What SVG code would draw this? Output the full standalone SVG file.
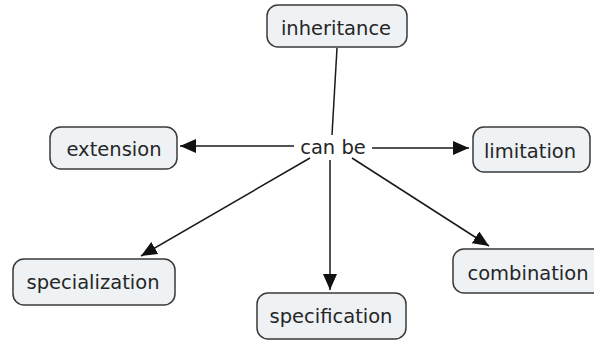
<svg xmlns="http://www.w3.org/2000/svg" width="594" height="343" viewBox="0 0 594 343">
  <style>
    .box { fill: #eef2f5; stroke: #3a3a3a; stroke-width: 1.5; }
    .lbl { font-family: "DejaVu Sans", Verdana, sans-serif; font-size: 19.5px; fill: #262626; text-anchor: middle; }
    .link { stroke: #1a1a1a; stroke-width: 1.5; fill: none; }
  </style>
  <defs>
    <marker id="arrow" viewBox="0 0 16 14" refX="16" refY="7" markerWidth="16" markerHeight="14" markerUnits="userSpaceOnUse" orient="auto">
      <path d="M0,0 L16,7 L0,14 Z" fill="#111"/>
    </marker>
  </defs>
  <rect width="594" height="343" fill="#ffffff"/>

  <g id="connectors">
    <line class="link" x1="337" y1="48" x2="332" y2="135"/>
    <line class="link" x1="294" y1="146" x2="180" y2="146" marker-end="url(#arrow)"/>
    <line class="link" x1="372" y1="148" x2="469" y2="148" marker-end="url(#arrow)"/>
    <line class="link" x1="310" y1="158" x2="141" y2="256" marker-end="url(#arrow)"/>
    <line class="link" x1="330" y1="160" x2="330" y2="290" marker-end="url(#arrow)"/>
    <line class="link" x1="352" y1="158" x2="489" y2="246" marker-end="url(#arrow)"/>
  </g>

  <g id="inheritance">
    <rect class="box" x="267" y="5" width="140" height="42" rx="11"/>
    <text class="lbl" x="336" y="35">inheritance</text>
  </g>
  <g id="can-be">
    <text class="lbl" x="333" y="154">can be</text>
  </g>
  <g id="extension">
    <rect class="box" x="50" y="127" width="127" height="42" rx="11"/>
    <text class="lbl" x="114" y="156">extension</text>
  </g>
  <g id="limitation">
    <rect class="box" x="473" y="127" width="117" height="45" rx="11"/>
    <text class="lbl" x="530" y="158">limitation</text>
  </g>
  <g id="specialization">
    <rect class="box" x="13" y="259" width="162" height="46" rx="11"/>
    <text class="lbl" x="93" y="289">specialization</text>
  </g>
  <g id="specification">
    <rect class="box" x="257" y="293" width="149" height="46" rx="11"/>
    <text class="lbl" x="331" y="323">specification</text>
  </g>
  <g id="combination">
    <rect class="box" x="453" y="249" width="160" height="44" rx="11"/>
    <text class="lbl" x="528" y="280">combination</text>
  </g>
</svg>
